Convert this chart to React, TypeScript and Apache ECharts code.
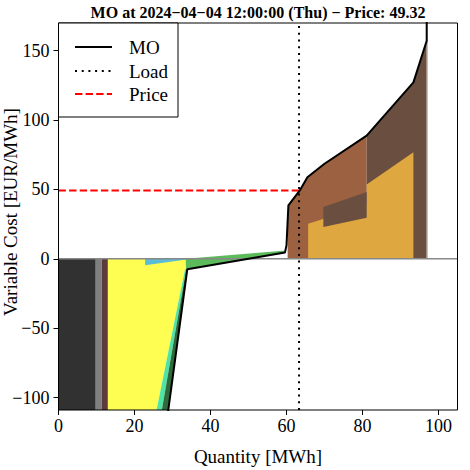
import React, { useEffect, useRef } from "react";
import * as echarts from "echarts";

// ---- data ----
const titleText = "MO at 2024−04−04 12:00:00 (Thu) − Price: 49.32";
const xTicks = [0, 20, 40, 60, 80, 100];
const yTicks = [-100, -50, 0, 50, 100, 150];
const xRange = [0, 105];
const yRange = [-109, 170];

const loadQuantity = 63.3;
const marketPrice = 49.32;

// merit-order curve (quantity MWh, variable cost EUR/MWh)
const moCurve: [number, number][] = [
  [28.35, -120], [33.9, -7.5], [59.6, 4.5], [60.0, 9.7], [60.5, 38.5],
  [63.5, 49.3], [65.5, 58.8], [70.0, 68.5], [81.1, 88.8], [93.4, 127.2],
  [96.9, 157.2], [96.9, 200],
];

// technology blocks (polygons in data space)
const techBlack: [number, number][] = [[0, 0], [9.8, 0], [9.8, -120], [0, -120]];
const techGray: [number, number][] = [[9.8, 0], [11.4, 0], [11.4, -120], [9.8, -120]];
const techMaroon: [number, number][] = [[11.4, 0], [13.0, 0], [13.0, -120], [11.4, -120]];
const techYellow: [number, number][] = [[13.0, 0], [33.7, 0], [33.3, -7.5], [25.0, -120], [13.0, -120]];
const techTurquoise: [number, number][] = [[33.3, -7.5], [33.6, -7.5], [26.5, -120], [25.0, -120]];
const techDarkGreen: [number, number][] = [[33.6, -7.5], [33.9, -7.5], [28.35, -120], [26.5, -120]];
const techLightBlue: [number, number][] = [[22.8, 0], [22.8, -4.7], [33.7, -0.5], [33.7, 0]];
const techGreen: [number, number][] = [[33.5, 0], [59.8, 6], [59.8, 4.5], [33.9, -7.5], [33.5, -7.5]];
const techSienna: [number, number][] = [
  [60.3, 0], [60.3, 10], [60.5, 38.5], [63.5, 49.3], [65.5, 58.8], [70.0, 68.5], [81.1, 88.8], [81.1, 0],
];
const techUmber: [number, number][] = [[81.1, 0], [81.1, 88.8], [93.4, 127.2], [96.9, 157.2], [96.9, 0]];
const techBeige: [number, number][] = [[96.9, 0], [96.9, 157.2], [97.2, 158], [97.2, 0]];
const techOrange: [number, number][] = [
  [65.7, 0], [65.7, 25.3], [81.1, 38.8], [81.1, 53.6], [93.4, 76.8], [93.4, 0],
];
const techUmberPatch: [number, number][] = [[69.7, 22.9], [69.7, 37.3], [81.1, 48.1], [81.1, 29.6]];

const areaList = [
  { pts: techBlack, color: "#313131" },
  { pts: techGray, color: "#7f7f7f" },
  { pts: techMaroon, color: "#5b3b3b" },
  { pts: techYellow, color: "#fdfd52" },
  { pts: techTurquoise, color: "#4fe3a6" },
  { pts: techDarkGreen, color: "#2f6a3a" },
  { pts: techLightBlue, color: "#5bbcd8" },
  { pts: techGreen, color: "#5bbb5b" },
  { pts: techSienna, color: "#9b6141" },
  { pts: techUmber, color: "#6a4f41" },
  { pts: techBeige, color: "#c9b3a4" },
  { pts: techOrange, color: "#dfa740" },
  { pts: techUmberPatch, color: "#6a4f41" },
];

const SERIF = "'Liberation Serif', 'Times New Roman', serif";
const fmt = (v: number) => (v < 0 ? "−" + Math.abs(v) : String(v));

export default function App() {
  const ref = useRef<HTMLDivElement>(null);
  useEffect(() => {
    if (!ref.current) return;
    const chart = echarts.init(ref.current, undefined, { renderer: "svg" });
    const gl = 58.5, gt = 23, gw = 399, gh = 387;
    chart.setOption({
      animation: false,
      backgroundColor: "#ffffff",
      grid: { left: gl, top: gt, width: gw, height: gh, containLabel: false },
      xAxis: {
        type: "value",
        min: xRange[0],
        max: xRange[1],
        axisLine: { show: false, onZero: false },
        axisTick: { show: true, inside: false, length: 5, lineStyle: { color: "#000", width: 1 }, customValues: xTicks },
        axisLabel: { color: "#000", fontFamily: SERIF, fontSize: 18, margin: 7, customValues: xTicks, formatter: fmt },
        splitLine: { show: false },
      },
      yAxis: {
        type: "value",
        min: yRange[0],
        max: yRange[1],
        axisLine: { show: false, onZero: false },
        axisTick: { show: true, inside: false, length: 5, lineStyle: { color: "#000", width: 1 }, customValues: yTicks },
        axisLabel: { color: "#000", fontFamily: SERIF, fontSize: 18, margin: 9, customValues: yTicks, formatter: fmt },
        splitLine: { show: false },
      },
      series: [
        {
          type: "custom",
          clip: true,
          data: areaList.map((a, i) => [a.pts[0][0], a.pts[0][1], i]),
          renderItem: (params: any, api: any) => {
            const a = areaList[params.dataIndex];
            return {
              type: "polygon",
              shape: { points: a.pts.map((p) => api.coord(p)) },
              style: { fill: a.color, stroke: null },
            };
          },
          z: 1,
        },
        {
          type: "line",
          data: [[xRange[0], 0], [xRange[1], 0]],
          symbol: "none",
          lineStyle: { color: "#888888", width: 1.5 },
          z: 2,
        },
        {
          type: "line",
          data: [[xRange[0], marketPrice], [loadQuantity, marketPrice]],
          symbol: "none",
          lineStyle: { color: "#ff0000", width: 2, type: [7.4, 3.2] },
          z: 3,
        },
        {
          type: "line",
          data: [[loadQuantity, yRange[0]], [loadQuantity, yRange[1]]],
          symbol: "none",
          lineStyle: { color: "#000", width: 2, type: [2, 4.7] },
          z: 3,
        },
        {
          type: "line",
          data: moCurve,
          symbol: "none",
          clip: true,
          lineStyle: { color: "#000", width: 2 },
          z: 4,
        },
      ],
      graphic: [
        {
          type: "rect",
          shape: { x: gl, y: gt, width: gw, height: gh },
          style: { fill: null, stroke: "#000", lineWidth: 1 },
          z: 100,
          silent: true,
        },
        {
          type: "text",
          x: 258,
          y: 12,
          style: { text: titleText, font: `bold 16px ${SERIF}`, fill: "#000", align: "center", verticalAlign: "middle" },
          z: 100,
        },
        {
          type: "text",
          x: 258,
          y: 456,
          style: { text: "Quantity [MWh]", font: `19px ${SERIF}`, fill: "#000", align: "center", verticalAlign: "middle" },
          z: 100,
        },
        {
          type: "text",
          x: 10,
          y: 212,
          rotation: Math.PI / 2,
          style: { text: "Variable Cost [EUR/MWh]", font: `19px ${SERIF}`, fill: "#000", align: "center", verticalAlign: "middle" },
          z: 100,
        },
        {
          type: "group",
          z: 110,
          children: [
            { type: "rect", shape: { x: gl, y: gt, width: 119.5, height: 94 }, style: { fill: "#fff", stroke: "#000", lineWidth: 1 }, z: 110 },
            { type: "line", shape: { x1: 75, y1: 47, x2: 112, y2: 47 }, style: { stroke: "#000", lineWidth: 2 }, z: 111 },
            { type: "line", shape: { x1: 75, y1: 71, x2: 112, y2: 71 }, style: { stroke: "#000", lineWidth: 2, lineDash: [2, 4.7] }, z: 111 },
            { type: "line", shape: { x1: 75, y1: 94, x2: 112, y2: 94 }, style: { stroke: "#ff0000", lineWidth: 2, lineDash: [7.4, 3.2] }, z: 111 },
            { type: "text", x: 129, y: 47, style: { text: "MO", font: `19px ${SERIF}`, fill: "#000", verticalAlign: "middle" }, z: 111 },
            { type: "text", x: 129, y: 71, style: { text: "Load", font: `19px ${SERIF}`, fill: "#000", verticalAlign: "middle" }, z: 111 },
            { type: "text", x: 129, y: 94, style: { text: "Price", font: `19px ${SERIF}`, fill: "#000", verticalAlign: "middle" }, z: 111 },
          ],
        },
      ],
    });
    return () => chart.dispose();
  }, []);
  return <div ref={ref} style={{ position: "fixed", left: 0, top: 0, width: 470, height: 470 }} />;
}
